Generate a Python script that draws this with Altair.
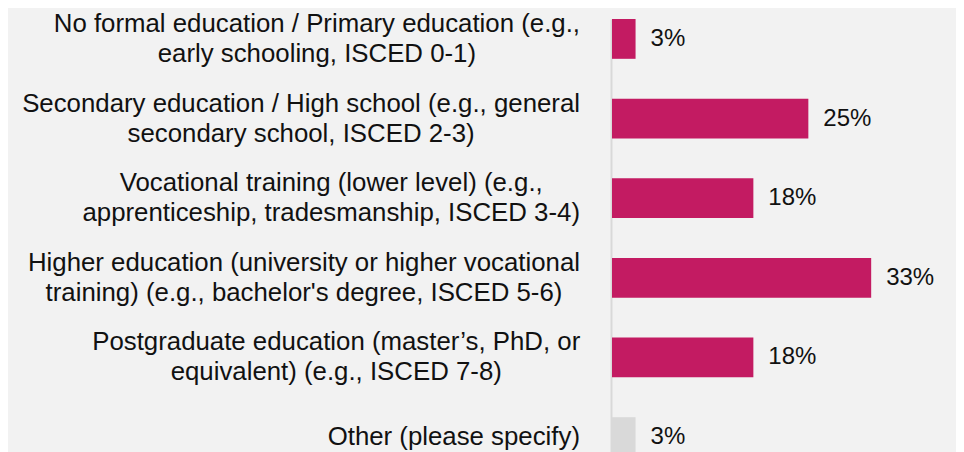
import altair as alt
import pandas as pd

# ---- data ----
label_lines = [
    ["No formal education / Primary education (e.g.,", "early schooling, ISCED 0-1)"],
    ["Secondary education / High school (e.g., general", "secondary school, ISCED 2-3)"],
    ["Vocational training (lower level) (e.g.,", "apprenticeship, tradesmanship, ISCED 3-4)"],
    ["Higher education (university or higher vocational", "training) (e.g., bachelor's degree, ISCED 5-6)"],
    ["Postgraduate education (master’s, PhD, or", "equivalent) (e.g., ISCED 7-8)"],
    ["Other (please specify)"],
]
values = [3, 25, 18, 33, 18, 3]
groups = ["main", "main", "main", "main", "main", "other"]

# ---- styling ----
BG = "#F2F2F2"
BAR = "#C31B62"
OTHER = "#D9D9D9"
TEXT = "#111111"
FONT = "Liberation Sans"
CAT_SIZE = 25.8
VAL_SIZE = 24
LINE_H = 30

PLOT_LEFT = 604
PLOT_W = 344
PLOT_H = 444
LABEL_GAP = 32  # gap between label block right edge and the bar origin

# Arial / Liberation Sans advance widths (per 1000 em) used to centre multi-line labels
_W = {" ": 278, "!": 278, "'": 191, "’": 222, "(": 333, ")": 333, ",": 278, "-": 333,
      ".": 278, "/": 278, ":": 278, "%": 889}
for d in "0123456789":
    _W[d] = 556
_W.update(dict(zip("ABCDEFGHIJKLMNOPQRSTUVWXYZ",
                   [667, 667, 722, 722, 667, 611, 778, 722, 278, 500, 667, 556, 833,
                    722, 778, 667, 778, 722, 667, 611, 722, 667, 944, 667, 667, 611])))
_W.update(dict(zip("abcdefghijklmnopqrstuvwxyz",
                   [556, 556, 500, 556, 556, 278, 556, 556, 222, 222, 500, 222, 833,
                    556, 556, 556, 556, 333, 500, 278, 556, 500, 722, 500, 500, 500])))


def text_width(s, size):
    return sum(_W.get(c, 556) for c in s) / 1000.0 * size


cats = [" ".join(l) for l in label_lines]
block_w = [max(text_width(s, CAT_SIZE) for s in l) for l in label_lines]

df = pd.DataFrame({
    "category": cats,
    "label": ["\n".join(l) for l in label_lines],
    "nlines": [len(l) for l in label_lines],
    "value": values,
    "group": groups,
    "vlabel": [f"{v}%" for v in values],
    "label_x": [-LABEL_GAP - w / 2.0 for w in block_w],
})

y_enc = alt.Y("category:N", sort=cats,
              scale=alt.Scale(range=[11, 449], paddingInner=0.5, paddingOuter=0),
              axis=alt.Axis(labels=False, ticks=False, title=None, grid=False,
                            domainColor=OTHER, domainWidth=2, offset=1))

x_scale = alt.Scale(domain=[0, 43.8], nice=False, zero=True)

bars = alt.Chart(df).mark_bar().encode(
    y=y_enc,
    x=alt.X("value:Q", scale=x_scale, axis=None),
    color=alt.Color("group:N", scale=alt.Scale(domain=["main", "other"], range=[BAR, OTHER]),
                    legend=None),
)

vals = alt.Chart(df).mark_text(align="left", baseline="middle", dx=15,
                               font=FONT, fontSize=VAL_SIZE, color=TEXT).encode(
    y=alt.Y("category:N", sort=cats),
    x=alt.X("value:Q", scale=x_scale),
    text="vlabel:N",
)


def cat_layer(n):
    return alt.Chart(df).transform_filter(alt.datum.nlines == n).mark_text(
        align="center", baseline="middle", lineBreak="\n", lineHeight=LINE_H,
        dy=-(n - 1) * LINE_H / 2.0, font=FONT, fontSize=CAT_SIZE, color=TEXT,
    ).encode(
        y=alt.Y("category:N", sort=cats),
        x=alt.X("label_x:Q", scale=None),
        text="label:N",
    )


chart = alt.layer(bars, vals, cat_layer(2), cat_layer(1)).properties(
    width=PLOT_W,
    height=PLOT_H,
    autosize=alt.AutoSizeParams(type="none"),
    padding={"left": PLOT_LEFT, "top": 0, "right": 0, "bottom": 0},
    background=BG,
).configure_view(stroke=None)

chart.save("out.html", embed_options={"renderer": "svg", "actions": False})
